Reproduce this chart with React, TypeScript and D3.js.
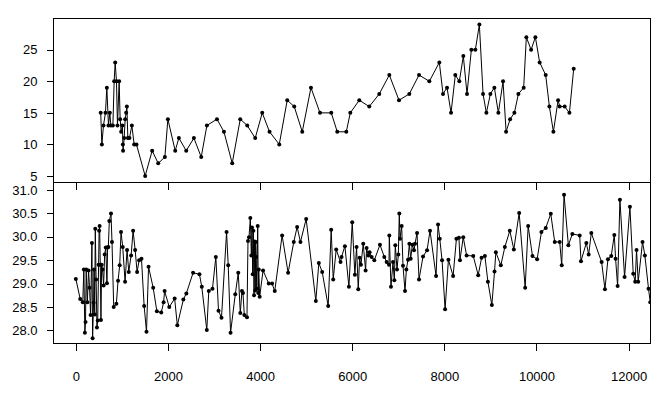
import React, { useEffect, useRef } from "react";
import * as d3 from "d3";

// upper series (integer counts)
const topX = [
  540, 565, 600, 643, 673, 708, 738, 760, 804, 832, 854, 882, 904, 940, 962, 984, 1012, 1021, 1025,
  1049, 1071, 1092, 1108, 1129, 1164, 1216, 1266, 1316, 1505, 1657, 1788, 1933, 1998, 2157, 2237,
  2396, 2563, 2722, 2845, 3063, 3215, 3395, 3569, 3721, 3894, 4046, 4205, 4416, 4589, 4741, 4915,
  5104, 5300, 5545, 5675, 5871, 5958, 6153, 6370, 6587, 6805, 7015, 7239, 7450, 7674, 7891, 7971,
  8058, 8145, 8238, 8325, 8412, 8492, 8586, 8673, 8760, 8840, 8912, 8999, 9086, 9172, 9274, 9340,
  9427, 9520, 9607, 9722, 9780, 9883, 9976, 10069, 10200, 10280, 10367, 10469, 10504, 10612, 10715,
  10808,
];
const topY = [
  15, 10, 13, 15, 19, 13, 15, 13, 13, 20, 23, 20, 13, 20, 14, 12, 13, 10, 9, 11, 14, 15, 16, 11, 11,
  13, 10, 10, 5, 9, 7, 8, 14, 9, 11, 9, 11, 8, 13, 14, 12, 7, 14, 13, 11, 15, 12, 10, 17, 16, 12, 19,
  15, 15, 12, 12, 15, 17, 16, 18, 21, 17, 18, 21, 20, 23, 18, 19, 15, 21, 20, 24, 18, 25, 25, 29, 18,
  15, 18, 19, 15, 20, 12, 14, 15, 18, 19, 27, 25, 27, 23, 21, 16, 12, 17, 16, 16, 15, 22,
];

// lower series
const botX = [
  0, 95, 150, 174, 196, 210, 225, 250, 276, 298, 320, 349, 364, 385, 395, 410, 422, 440, 458, 475,
  494, 505, 516, 530, 545, 560, 580, 603, 625, 650, 675, 690, 705, 727, 763, 785, 822, 880, 916, 952,
  981, 1018, 1069, 1112, 1149, 1200, 1243, 1287, 1330, 1374, 1425, 1483, 1534, 1578, 1679, 1759,
  1854, 1905, 1927, 2028, 2145, 2203, 2334, 2399, 2545, 2683, 2734, 2843, 2886, 2966, 3039, 3097,
  3162, 3272, 3308, 3359, 3461, 3526, 3570, 3606, 3628, 3657, 3715, 3737, 3759, 3788, 3810, 3824,
  3840, 3853, 3868, 3882, 3895, 3904, 3915, 3926, 3948, 3960, 3970, 3991, 4064, 4188, 4260, 4318,
  4478, 4608, 4731, 4804, 4876, 5000, 5210, 5275, 5348, 5478, 5543, 5587, 5652, 5746, 5768, 5841,
  5928, 6000, 6058, 6094, 6131, 6160, 6189, 6239, 6290, 6312, 6348, 6377, 6421, 6479, 6602, 6696,
  6747, 6798, 6805, 6841, 6885, 6914, 6935, 6972, 7001, 7022, 7037, 7073, 7102, 7146, 7175, 7211,
  7240, 7269, 7305, 7341, 7363, 7407, 7450, 7537, 7624, 7689, 7820, 7863, 7900, 7950, 8016, 8088,
  8190, 8262, 8317, 8338, 8410, 8483, 8627, 8735, 8808, 8880, 8945, 9031, 9089, 9118, 9226, 9313,
  9421, 9508, 9624, 9754, 9819, 9913, 10014, 10107, 10201, 10310, 10396, 10504, 10548, 10598, 10692,
  10779, 10938, 10966, 11082, 11133, 11190, 11414, 11486, 11551, 11623, 11689, 11717, 11761, 11811,
  11912, 12028, 12100, 12143, 12172, 12208, 12302, 12353, 12432, 12470,
];
const botY = [
  29.1, 28.67, 28.6, 29.3, 27.95, 28.18, 29.3, 28.6, 29.28, 28.91, 28.33, 29.87, 27.83, 28.59, 29.3,
  28.34, 30.17, 29.09, 28.06, 28.21, 29.4, 30.13, 30.23, 29.4, 28.22, 29.4, 29.3, 28.96, 29.62, 29.77,
  29.01, 29.77, 29.78, 30.34, 30.5, 29.89, 28.5, 28.57, 29.06, 29.39, 30.1, 29.78, 29.04, 29.72,
  29.25, 29.6, 30.13, 29.72, 29.25, 29.5, 29.53, 28.52, 27.97, 29.36, 28.91, 28.41, 28.38, 28.6,
  28.84, 28.5, 28.68, 28.11, 28.66, 28.79, 29.23, 29.2, 28.93, 28.01, 28.84, 28.89, 29.57, 28.42,
  28.27, 30.1, 29.39, 27.95, 28.77, 29.23, 28.37, 28.84, 28.8, 28.33, 28.28, 29.91, 29.99, 30.4,
  29.6, 30.2, 29.2, 30.13, 28.75, 29.9, 28.85, 29.89, 29.57, 28.89, 30.23, 28.8, 29.3, 28.72, 29.28,
  29.0, 29.0, 28.84, 30.03, 29.23, 29.89, 30.21, 29.89, 30.38, 28.63, 29.44, 29.25, 28.52, 30.15,
  29.09, 29.73, 29.46, 29.57, 29.8, 28.93, 30.31, 29.19, 29.78, 28.88, 29.55, 29.4, 29.85, 29.28,
  29.76, 29.6, 29.67, 29.57, 29.5, 29.83, 29.57, 29.46, 29.4, 30.03, 28.93, 29.46, 29.07, 29.82,
  29.3, 29.62, 30.5, 29.96, 30.23, 29.38, 28.84, 29.3, 29.51, 29.85, 29.53, 29.83, 29.71, 29.85,
  30.08, 29.09, 29.58, 29.71, 30.13, 29.16, 30.26, 29.96, 29.5, 28.45, 29.51, 29.16, 29.96, 29.98,
  29.5, 29.99, 29.6, 29.59, 29.18, 29.55, 29.59, 29.04, 28.54, 29.26, 29.67, 29.39, 29.78, 30.13,
  29.73, 30.51, 28.91, 30.23, 29.59, 29.52, 30.1, 30.19, 30.49, 29.89, 29.89, 29.39, 30.9, 29.82,
  30.06, 30.03, 29.48, 29.87, 29.62, 30.08, 29.46, 28.88, 29.52, 29.59, 30.04, 29.53, 28.95, 30.79,
  29.14, 30.64, 29.21, 29.04, 29.72, 29.04, 29.89, 29.6, 28.89, 28.6,
];

const xTicks = [0, 2000, 4000, 6000, 8000, 10000, 12000];
const topTicks = [5, 10, 15, 20, 25];
const botTicks = [28.0, 28.5, 29.0, 29.5, 30.0, 30.5, 31.0];

export default function App() {
  const svgRef = useRef<SVGSVGElement | null>(null);

  useEffect(() => {
    if (!svgRef.current) return;
    const width = 664;
    const height = 397;
    const left = 53.5;
    const right = 650.5;
    const top = 18.5;
    const mid = 182.5;
    const bottom = 343.5;
    const font = "'Liberation Sans', Arial, sans-serif";

    const svg = d3.select(svgRef.current);
    svg.selectAll("*").remove();
    svg.attr("width", width).attr("height", height).attr("viewBox", `0 0 ${width} ${height}`);

    svg.append("rect").attr("width", width).attr("height", height).attr("fill", "#fff");

    const x = d3.scaleLinear().domain([-485, 12475]).range([left, right]);
    const yTop = d3.scaleLinear().domain([3.96, 29.96]).range([mid, top]);
    const yBot = d3.scaleLinear().domain([27.72, 31.16]).range([bottom, mid]);

    const defs = svg.append("defs");
    defs.append("clipPath").attr("id", "clipTop")
      .append("rect").attr("x", left).attr("y", top).attr("width", right - left).attr("height", mid - top);
    defs.append("clipPath").attr("id", "clipBot")
      .append("rect").attr("x", left).attr("y", mid).attr("width", right - left).attr("height", bottom - mid);

    const drawSeries = (xs: number[], ys: number[], y: d3.ScaleLinear<number, number>, clip: string) => {
      const pts = xs.map((v, i) => [v, ys[i]] as [number, number]);
      const g = svg.append("g").attr("clip-path", `url(#${clip})`);
      const line = d3.line<[number, number]>().x((d) => x(d[0])).y((d) => y(d[1]));
      g.append("path")
        .attr("d", line(pts) as string)
        .attr("fill", "none")
        .attr("stroke", "#000")
        .attr("stroke-width", 1);
      g.selectAll("circle")
        .data(pts)
        .join("circle")
        .attr("cx", (d) => x(d[0]))
        .attr("cy", (d) => y(d[1]))
        .attr("r", 2)
        .attr("fill", "#000");
    };

    drawSeries(topX, topY, yTop, "clipTop");
    drawSeries(botX, botY, yBot, "clipBot");

    // frames
    svg.append("rect")
      .attr("x", left).attr("y", top).attr("width", right - left).attr("height", bottom - top)
      .attr("fill", "none").attr("stroke", "#000").attr("shape-rendering", "crispEdges");
    svg.append("line")
      .attr("x1", left).attr("x2", right).attr("y1", mid).attr("y2", mid)
      .attr("stroke", "#000").attr("shape-rendering", "crispEdges");

    // y axes
    const yAxisTop = svg.append("g").attr("transform", `translate(${left},0)`)
      .call(d3.axisLeft(yTop).tickValues(topTicks).tickSize(7).tickPadding(9).tickFormat(d3.format("d")));
    const yAxisBot = svg.append("g").attr("transform", `translate(${left},0)`)
      .call(d3.axisLeft(yBot).tickValues(botTicks).tickSize(7).tickPadding(9).tickFormat(d3.format(".1f")));

    // x ticks under upper panel (no labels) and bottom axis
    const xAxisMid = svg.append("g").attr("transform", `translate(0,${mid})`)
      .call(d3.axisBottom(x).tickValues(xTicks).tickSize(7).tickFormat(() => ""));
    const xAxisBot = svg.append("g").attr("transform", `translate(0,${bottom})`)
      .call(d3.axisBottom(x).tickValues(xTicks).tickSize(7).tickPadding(21).tickFormat(d3.format("d")));

    [yAxisTop, yAxisBot, xAxisMid, xAxisBot].forEach((a) => {
      a.select(".domain").remove();
      a.selectAll("line").attr("stroke", "#000").attr("shape-rendering", "crispEdges");
      a.selectAll("text").attr("font-family", font).attr("font-size", "13px").attr("fill", "#000");
    });
  }, []);

  return <svg ref={svgRef} style={{ position: "absolute", left: 0, top: 0 }} />;
}
